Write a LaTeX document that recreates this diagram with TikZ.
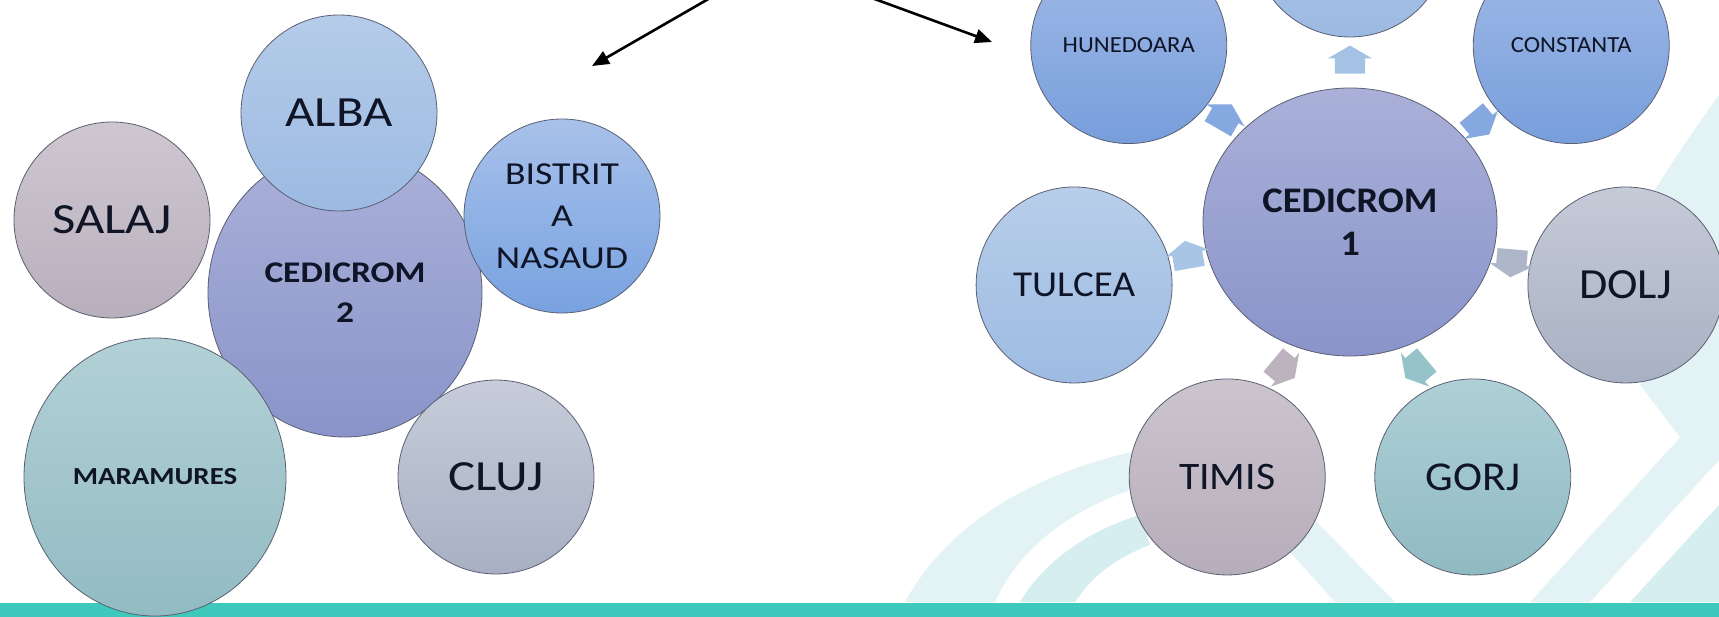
\documentclass[tikz,border=0pt]{standalone}
\usepackage{fontspec}
\setmainfont{Carlito}
\newfontfamily\fL[FakeStretch=1.18]{Carlito}
\newfontfamily\fR[FakeStretch=1.07]{Carlito}
\usetikzlibrary{shapes.geometric,shapes.arrows,arrows.meta}
\definecolor{edgec}{HTML}{5B6072}
\definecolor{txtc}{HTML}{0F1526}
\definecolor{band}{HTML}{3DC9BC}
\definecolor{pale}{HTML}{E3F3F5}
\definecolor{paleB}{HTML}{D6EEF0}
\definecolor{albaT}{HTML}{B5CCE9}\definecolor{albaB}{HTML}{9CBAE2}
\definecolor{salT}{HTML}{CEC7D0}\definecolor{salB}{HTML}{B8AFBC}
\definecolor{cedT}{HTML}{AAB0D8}\definecolor{cedB}{HTML}{8A94CA}
\definecolor{bisT}{HTML}{A8C1EA}\definecolor{bisB}{HTML}{78A2E0}
\definecolor{marT}{HTML}{B2D1D6}\definecolor{marB}{HTML}{92BBC2}
\definecolor{clujT}{HTML}{C6CCD9}\definecolor{clujB}{HTML}{A7B0C3}
\definecolor{hunT}{HTML}{A2BAE7}\definecolor{hunB}{HTML}{779EDC}
\definecolor{tulT}{HTML}{B8CEEA}\definecolor{tulB}{HTML}{9DBBE2}
\definecolor{doljT}{HTML}{C5CAD7}\definecolor{doljB}{HTML}{A8B1C3}
\definecolor{timT}{HTML}{CCC4CD}\definecolor{timB}{HTML}{B6ADBA}
\definecolor{gorT}{HTML}{AED0D6}\definecolor{gorB}{HTML}{90BAC2}
\definecolor{arTop}{HTML}{A4C2E4}
\definecolor{arHun}{HTML}{86A8E0}
\definecolor{arTul}{HTML}{A9C5E6}
\definecolor{arDol}{HTML}{AEB6C9}
\definecolor{arTim}{HTML}{BCB3BF}
\definecolor{arGor}{HTML}{95C3C9}
\tikzset{
  bub/.style={ellipse, draw=edgec, line width=0.8pt, inner sep=0pt, text=txtc, align=center},
  sat/.style={bub, minimum width=196pt, minimum height=196pt},
  blk/.style={single arrow, draw=none, minimum height=28pt, minimum width=44pt,
    single arrow head extend=7pt, single arrow tip angle=120, inner xsep=0pt, inner ysep=15pt},
  pointer/.style={line width=2.6pt, draw=black, -{Triangle[length=17pt,width=14pt]}},
}
\begin{document}
\begin{tikzpicture}[x=1pt,y=1pt]
\useasboundingbox (0,0) rectangle (1719,-617);
\clip (0,0) rectangle (1719,-617);
\fill[white] (0,0) rectangle (1719,-617);
% background ribbons
\fill[pale] (905,-602) .. controls (950,-520) and (1040,-470) .. (1150,-448) -- (1165,-480) .. controls (1080,-500) and (1020,-545) .. (995,-602) -- cycle;
\fill[paleB] (1020,-602) .. controls (1045,-560) and (1090,-530) .. (1140,-515) -- (1150,-545) .. controls (1110,-560) and (1090,-580) .. (1075,-602) -- cycle;
\fill[pale] (1275,-535) -- (1335,-602) -- (1395,-602) -- (1300,-505) -- cycle;
\fill[pale] (1530,-602) -- (1719,-395) -- (1719,-460) -- (1590,-602) -- cycle;
\fill[paleB] (1630,-602) -- (1719,-505) -- (1719,-602) -- cycle;
\fill[pale] (1719,-95) .. controls (1690,-135) and (1660,-180) .. (1640,-215) -- (1700,-300) -- (1719,-330) -- cycle;
\fill[pale] (1640,-385) -- (1719,-290) -- (1719,-420) -- (1690,-450) -- cycle;
% bottom band
\fill[band] (0,-603) rectangle (1719,-617);
% pointers from above
\coordinate (srcL) at (724,10);
\coordinate (tipL) at (592,-66);
\coordinate (srcR) at (850,10);
\coordinate (tipR) at (992,-42);
\draw[pointer] (srcL) -- (tipL);
\draw[pointer] (srcR) -- (tipR);
% ---- left group ----
\node[bub, minimum width=274pt, minimum height=288pt, top color=cedT, bottom color=cedB,
  font={\fL\bfseries\fontsize{30}{40}\selectfont}] (ced2) at (345,-293) {CEDICROM\\2};
\node[sat, top color=albaT, bottom color=albaB, font={\fL\fontsize{43}{50}\selectfont}] (alba) at (339,-113) {ALBA};
\node[sat, top color=salT, bottom color=salB, font={\fL\fontsize{43}{50}\selectfont}] (salaj) at (112,-220) {SALAJ};
\node[sat, minimum height=194pt, top color=bisT, bottom color=bisB, font={\fL\fontsize{32}{42}\selectfont}] (bis) at (562,-216) {BISTRIT\\A\\NASAUD};
\node[bub, minimum width=262pt, minimum height=278pt, top color=marT, bottom color=marB,
  font={\fL\bfseries\fontsize{24.5}{30}\selectfont}] (mar) at (155,-477) {MARAMURES};
\node[sat, minimum height=194pt, top color=clujT, bottom color=clujB, font={\fL\fontsize{43}{50}\selectfont}] (cluj) at (496,-477) {CLUJ};
% ---- right group ----
\node[bub, minimum width=294pt, minimum height=268pt, top color=cedT, bottom color=cedB,
  font={\fR\bfseries\fontsize{36}{43}\selectfont}] (c1) at (1350,-222) {CEDICROM\\1};
\node[sat, top color=albaT, bottom color=albaB] (topc) at ([shift={(90:283)}]c1) {};
\node[sat, top color=hunT, bottom color=hunB, font={\fR\fontsize{23}{28}\selectfont}] (hun) at ([shift={(141.43:283)}]c1) {HUNEDOARA};
\node[sat, top color=tulT, bottom color=tulB, font={\fR\fontsize{36.5}{44}\selectfont}] (tul) at ([shift={(192.86:283)}]c1) {TULCEA};
\node[sat, top color=timT, bottom color=timB, font={\fR\fontsize{39}{46}\selectfont}] (tim) at ([shift={(244.29:283)}]c1) {TIMIS};
\node[sat, top color=gorT, bottom color=gorB, font={\fR\fontsize{41}{48}\selectfont}] (gor) at ([shift={(295.71:283)}]c1) {GORJ};
\node[sat, top color=doljT, bottom color=doljB, font={\fR\fontsize{43}{50}\selectfont}] (dol) at ([shift={(347.14:283)}]c1) {DOLJ};
\node[sat, top color=hunT, bottom color=hunB, font={\fR\fontsize{23}{28}\selectfont}] (con) at ([shift={(38.57:283)}]c1) {CONSTANTA};
% block arrows between centre and satellites
\node[blk, fill=arTop, rotate=90] (aTop) at ([shift={(90:158)}]c1) {};
\node[blk, fill=arHun, rotate=60] (aHun) at ([shift={(141.43:163)}]c1) {};
\node[blk, fill=arTul, rotate=100] (aTul) at ([shift={(192.86:166)}]c1) {};
\node[blk, fill=arTim, rotate=-40] (aTim) at ([shift={(244.29:160)}]c1) {};
\node[blk, fill=arGor, rotate=220] (aGor) at ([shift={(295.71:160)}]c1) {};
\node[blk, fill=arDol, rotate=265] (aDol) at ([shift={(347.14:166)}]c1) {};
\node[blk, fill=arHun, rotate=-50] (aCon) at ([shift={(38.57:163)}]c1) {};
\end{tikzpicture}
\end{document}
